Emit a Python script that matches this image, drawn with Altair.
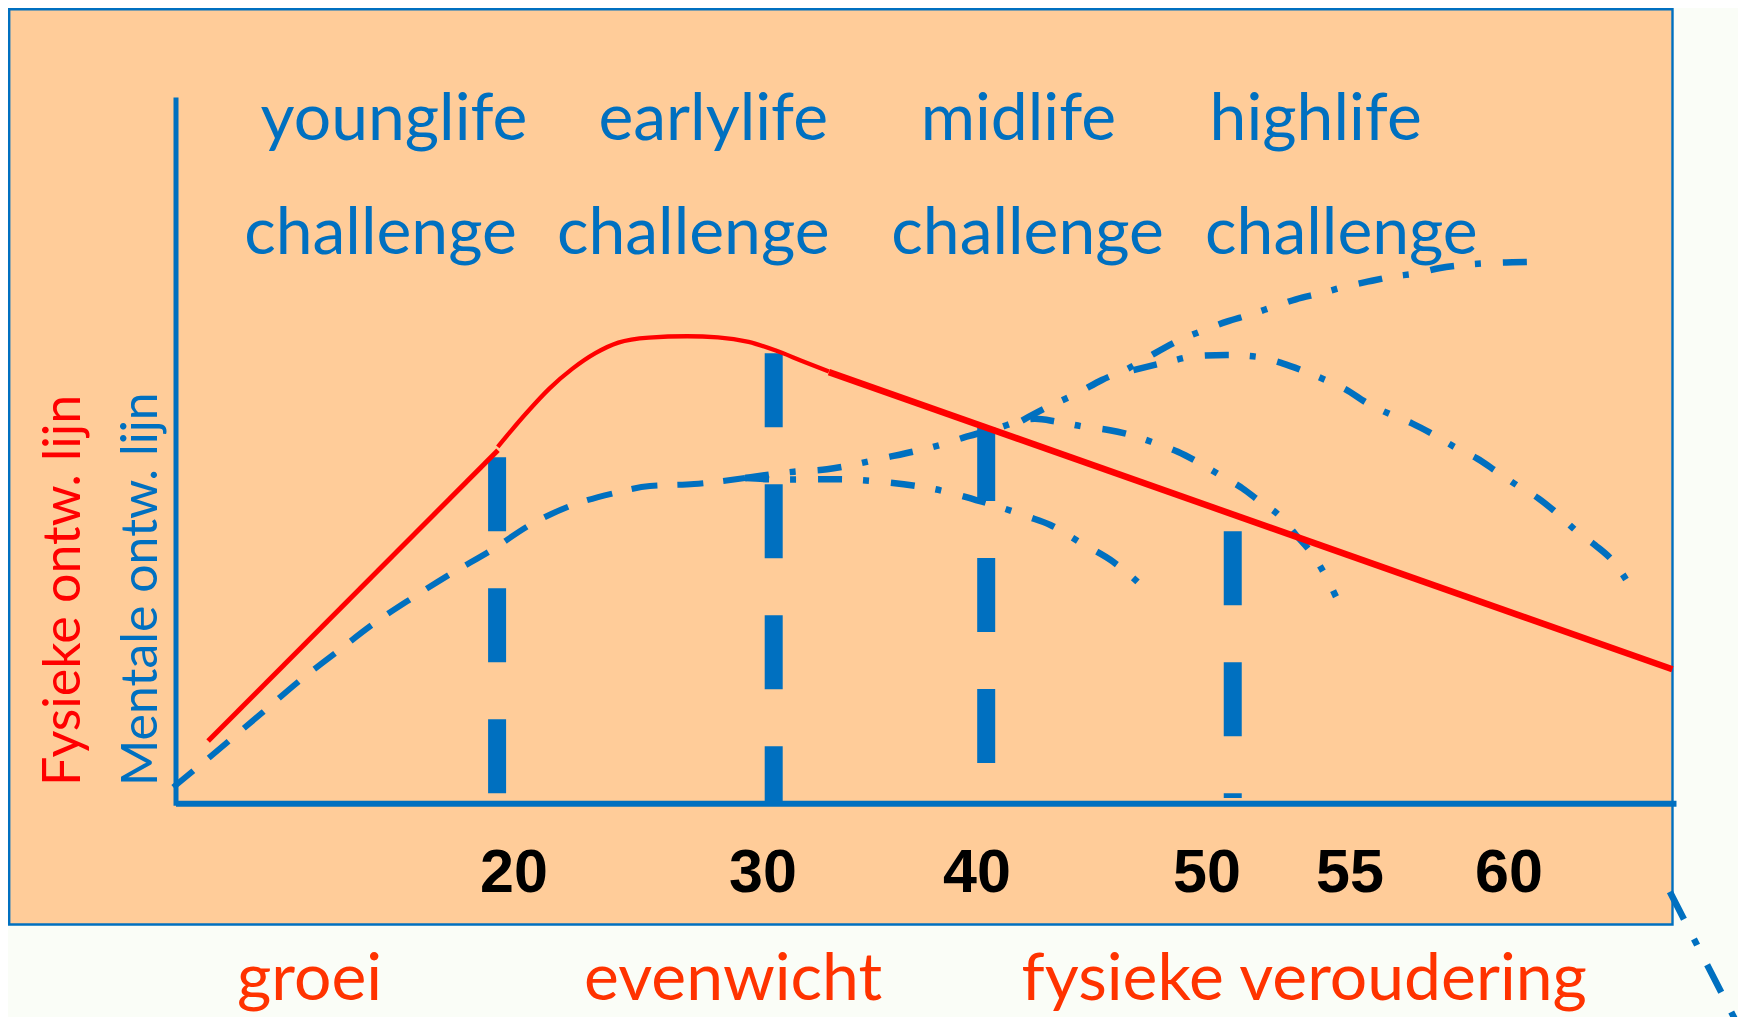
import altair as alt
import pandas as pd

BLUE = "#0070C0"
RED = "#FF0000"
ORANGE_TXT = "#FF3300"
PEACH = "#FFCC99"
PAGE = "#FAFDF7"
HAND = "Lato"

# ---------------- data (age in years, level = development 0..100) ----------------
tick_ages = [20, 30, 40, 50, 55, 60]
tick_label_level = -12.6

phase_names = ["younglife", "earlylife", "midlife", "highlife"]
phase_age = [12.9, 28.0, 41.8, 53.8]
phase_level = 94.2
challenge_age = [12.1, 27.2, 42.2, 54.7]
challenge_level = 78.0

stage_names = ["groei", "evenwicht", "fysieke veroudering"]
stage_age = [7.9, 28.8, 53.4]
stage_level = -28.0

ylab_names = ["Fysieke ontw. lijn", "Mentale ontw. lijn"]
ylab_age = [-5.7, -1.1]
ylab_level = [2.4, 2.4]

marker_age = [19.0, 30.5, 40.4, 50.9]
marker_top = [49.1, 63.9, 53.4, 38.6]
marker_bottom = [1.4, 0.3, 5.5, 0.7]

axis_age = [0, 65.3]
axis_level = [-0.4, 100.2]

# physical development (red)
red_a_age = [1.9, 19.05]
red_a_level = [8.8, 50.1]
red_b_age = [19.04, 20.5, 21.43, 22.35, 23.27, 24.19, 25.42, 26.96, 28.19, 29.42, 30.57, 31.82, 33.08]
red_b_level = [50.6, 55.4, 58.9, 61.7, 63.9, 65.4, 66.1, 66.3, 66.15, 65.5, 64.3, 62.8, 61.3]
red_c_age = [33.08, 65.17]
red_c_level = [61.2, 19.0]

# mental development (blue): dashed trunk
trunk_age = [-0.16, 1.91, 5.17, 7.24, 9.41, 11.58, 13.95, 16.31, 18.68, 20.64, 22.18, 23.99, 25.46, 27.23, 29.28]
trunk_level = [2.23, 6.35, 12.97, 17.23, 21.26, 25.28, 29.08, 32.63, 35.94, 39.49, 42.09, 43.99, 45.03, 45.31, 46.16]

# dash-dot branches
b1_age = [29.28, 31.12, 33.43, 35.76, 37.99, 40.22, 42.22, 43.19, 44.55, 45.91, 47.17, 47.57]
b1_level = [46.16, 45.95, 46.0, 45.55, 44.6, 42.8, 40.67, 39.49, 36.89, 34.28, 30.82, 29.55]

b2_age = [29.28, 31.45, 32.99, 34.16, 35.58, 37.01, 38.27, 39.51, 40.87, 41.96, 42.52, 43.48, 44.65,
          45.72, 46.69, 47.76, 48.73, 49.7, 50.45, 51.24, 51.86, 52.57, 53.11, 53.66, 54.13, 54.51]
b2_level = [46.16, 47.06, 47.4, 48.01, 48.96, 49.9, 50.85, 52.03, 53.22, 54.33, 54.57, 54.16, 53.45,
            52.98, 52.27, 51.09, 49.9, 48.25, 46.59, 44.7, 42.8, 40.67, 38.07, 35.47, 32.39, 29.3]

b3_age = [41.96, 43.1, 44.36, 45.43, 46.59, 47.47, 48.82, 49.89, 50.69, 51.47, 52.33, 53.11, 53.97,
          54.83, 55.55, 56.32, 57.09, 57.79, 58.57, 59.27, 60.11, 60.89]
b3_level = [54.33, 56.29, 58.2, 60.09, 61.75, 63.4, 65.77, 67.19, 68.37, 69.32, 70.5, 71.55, 72.4,
            73.34, 74.05, 74.76, 75.24, 75.95, 76.42, 76.66, 76.8, 76.89]

b4_age = [46.8, 48.34, 49.5, 50.69, 51.71, 52.64, 53.58, 54.28, 54.83, 55.55, 56.32, 56.95, 57.65,
          58.36, 58.99, 59.62, 60.32, 60.93, 61.52, 62.16, 62.72, 63.35, 63.78]
b4_level = [61.5, 62.69, 63.49, 63.64, 63.4, 62.46, 61.04, 59.84, 58.8, 56.78, 55.11, 53.93, 52.27,
            50.38, 48.96, 47.06, 44.93, 43.28, 41.15, 38.54, 36.65, 34.05, 31.2]

tail_age = [65.09, 67.24]
tail_level = [-12.6, -31.5]

# ---------------- scales ----------------
xs = alt.Scale(domain=[0, 20, 30, 40, 50, 55, 60, 65],
               range=[168, 506, 755, 969, 1199, 1342, 1501, 1659], nice=False, zero=False)
ys = alt.Scale(domain=[0, 100], range=[795, 91], nice=False, zero=False)


def X(f="age"):
    return alt.X(f"{f}:Q", scale=xs, axis=None)


def Y(f="level"):
    return alt.Y(f"{f}:Q", scale=ys, axis=None)


def series(ages, levels, name):
    return pd.DataFrame({"age": ages, "level": levels, "s": name, "i": list(range(len(ages)))})


# frame
box = alt.Chart(pd.DataFrame({"k": [0]})).mark_rect(
    fill=PEACH, stroke=BLUE, strokeWidth=2.4
).encode(x=alt.value(1.2), x2=alt.value(1664.5), y=alt.value(1.2), y2=alt.value(916.5))

# axes
yaxis = alt.Chart(pd.DataFrame({"age": [axis_age[0]], "l0": [axis_level[1]], "l1": [axis_level[0]]})).mark_rule(
    color=BLUE, strokeWidth=5).encode(x=X(), y=Y("l0"), y2="l1:Q")
xaxis = alt.Chart(pd.DataFrame({"a0": [axis_age[0]], "a1": [axis_age[1]], "level": [-0.1]})).mark_rule(
    color=BLUE, strokeWidth=6).encode(x=X("a0"), x2="a1:Q", y=Y())

markers = alt.Chart(pd.DataFrame({"age": marker_age, "top": marker_top, "bottom": marker_bottom})).mark_rule(
    color=BLUE, strokeWidth=18, strokeDash=[74, 57], strokeCap="butt"
).encode(x=X(), y=Y("top"), y2="bottom:Q")


def line(df, width, color, dash=None, interp="monotone"):
    kw = dict(color=color, strokeWidth=width, interpolate=interp, strokeCap="butt")
    if dash:
        kw["strokeDash"] = dash
    return alt.Chart(df).mark_line(**kw).encode(x=X(), y=Y(), detail="s:N", order="i:Q")


red_a = line(series(red_a_age, red_a_level, "a"), 5, RED, interp="linear")
red_b = line(series(red_b_age, red_b_level, "b"), 4.3, RED)
red_c = line(series(red_c_age, red_c_level, "c"), 6.5, RED, interp="linear")

trunk = line(series(trunk_age, trunk_level, "t"), 6, BLUE, dash=[26, 20])
branches = pd.concat([
    series(b1_age, b1_level, "b1"),
    series(b2_age, b2_level, "b2"),
    series(b3_age, b3_level, "b3"),
    series(b4_age, b4_level, "b4"),
])
dashdot = line(branches, 6.5, BLUE, dash=[24, 21, 6, 22])
tail = line(series(tail_age, tail_level, "tail"), 6.5, BLUE, dash=[31, 22, 7, 22], interp="linear")


def texts(names, ages, levels, size, color, font=HAND, weight="normal", align="center", angle=0):
    df = pd.DataFrame({"t": names, "age": ages, "level": levels})
    kw = dict(font=font, fontSize=size, color=color, fontWeight=weight, align=align, baseline="alphabetic")
    if angle:
        kw["angle"] = angle
    return alt.Chart(df).mark_text(**kw).encode(x=X(), y=Y(), text="t:N")


t_phase = texts(phase_names, phase_age, [phase_level] * 4, 66, BLUE)
t_chal = texts(["challenge"] * 4, challenge_age, [challenge_level] * 4, 66, BLUE)
t_stage = texts(stage_names, stage_age, [stage_level] * 3, 66, ORANGE_TXT)
t_ticks = texts([str(a) for a in tick_ages], tick_ages, [tick_label_level] * len(tick_ages), 61, "black",
                font="Liberation Sans", weight="bold")
t_ylab_f = texts(ylab_names[:1], ylab_age[:1], ylab_level[:1], 52, RED, align="left", angle=270)
t_ylab_m = texts(ylab_names[1:], ylab_age[1:], ylab_level[1:], 50, BLUE, align="left", angle=270)

chart = alt.layer(
    box, markers, trunk, dashdot, tail, red_a, red_b, red_c, yaxis, xaxis,
    t_phase, t_chal, t_stage, t_ticks, t_ylab_f, t_ylab_m
).properties(
    width=1730, height=1009, background=PAGE, padding=0,
    autosize=alt.AutoSizeParams(type="none")
).configure_view(stroke=None)

chart.save("out.html", embed_options={"renderer": "svg", "actions": False})
